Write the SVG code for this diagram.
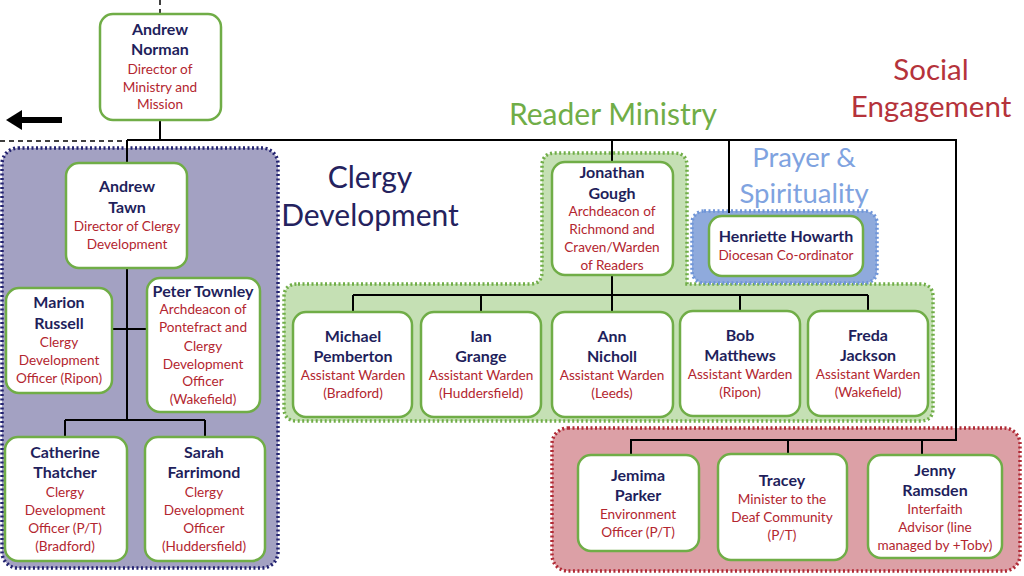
<svg xmlns="http://www.w3.org/2000/svg" width="1024" height="576" viewBox="0 0 1024 576">
<style>
.node{fill:#fff;stroke:#70ad47;stroke-width:2.5}
.nm{font-family:Lato,"Open Sans",sans-serif;font-weight:bold;font-size:16px;fill:#1f1f5c;text-anchor:middle}
.tt{font-family:Lato,"Open Sans",sans-serif;font-size:13.6px;fill:#b3262f;text-anchor:middle}
.ln{stroke:#000;stroke-width:2;fill:none}
.hd{font-family:Lato,"Open Sans",sans-serif;text-anchor:middle}
</style>
<rect width="1024" height="576" fill="#fff"/>
<g id="groups">
<rect x="2" y="148" width="276" height="420" rx="16" fill="#a3a1c2" stroke="#232370" stroke-width="3.5" stroke-dasharray="2 2.5"/>
<path d="M298 284 H530 Q542 284 542 272 V166 Q542 153 555 153 H674 Q687 153 687 166 V284 H920 Q933 284 933 297 V408 Q933 421 920 421 H297 Q284 421 284 408 V297 Q284 284 298 284 Z" fill="#c5e0b4" stroke="#70ad47" stroke-width="3.5" stroke-dasharray="2 2.5"/>
<rect x="692" y="211" width="185" height="72" rx="12" fill="#8faadc" stroke="#6f95d8" stroke-width="3.5" stroke-dasharray="2 2.5"/>
<rect x="552" y="428" width="468" height="143" rx="16" fill="#dca0a6" stroke="#b02a35" stroke-width="3.5" stroke-dasharray="2 2.5"/>
</g>
<g id="connectors">
<line x1="160" y1="0" x2="160" y2="14" stroke="#000" stroke-width="1.5" stroke-dasharray="5 4"/>
<line x1="0" y1="141" x2="127" y2="141" stroke="#000" stroke-width="1.5" stroke-dasharray="5 4"/>
<path class="ln" d="M160 120 V140 M127 140 H956 V440 H631 V455 M788 440 V455 M922 440 V455"/>
<path class="ln" d="M127 140 V163 M127 268 V420 M65 420 H205 M65 420 V437 M205 420 V437 M112 329 H147"/>
<path class="ln" d="M612 140 V162 M612 275 V295 M353 295 H868 M353 295 V312 M481 295 V312 M612 295 V312 M740 295 V311 M868 295 V311"/>
<path class="ln" d="M729 140 V213"/>
<path d="M62 120 H20" stroke="#000" stroke-width="6"/>
<path d="M6 120 L22 110 V130 Z" fill="#000"/>
</g>
<g id="titles">
<text class="hd" x="370" y="188" font-size="30" fill="#24225e">Clergy</text>
<text class="hd" x="370" y="226" font-size="30" fill="#24225e">Development</text>
<text class="hd" x="613" y="125" font-size="30" fill="#70ad47">Reader Ministry</text>
<text class="hd" x="804" y="167" font-size="27.5" fill="#7fa3e0">Prayer &amp;</text>
<text class="hd" x="804" y="203" font-size="27.5" fill="#7fa3e0">Spirituality</text>
<text class="hd" x="931" y="80" font-size="29.5" fill="#b5333b">Social</text>
<text class="hd" x="931" y="117" font-size="29.5" fill="#b5333b">Engagement</text>
</g>
<g id="andrew-norman">
<rect class="node" x="100" y="14" width="121" height="106" rx="13"/>
<text class="nm" x="160" y="35">Andrew</text><text class="nm" x="160" y="55">Norman</text>
<text class="tt" x="160" y="74">Director of</text><text class="tt" x="160" y="92">Ministry and</text><text class="tt" x="160" y="109">Mission</text>
</g>
<g id="andrew-tawn">
<rect class="node" x="66" y="163" width="121" height="105" rx="13"/>
<text class="nm" x="127" y="192">Andrew</text><text class="nm" x="127" y="213">Tawn</text>
<text class="tt" x="127" y="231">Director of Clergy</text><text class="tt" x="127" y="249">Development</text>
</g>
<g id="marion-russell">
<rect class="node" x="6" y="288" width="106" height="105" rx="13"/>
<text class="nm" x="59" y="308">Marion</text><text class="nm" x="59" y="329">Russell</text>
<text class="tt" x="59" y="347">Clergy</text><text class="tt" x="59" y="365">Development</text><text class="tt" x="59" y="383">Officer (Ripon)</text>
</g>
<g id="peter-townley">
<rect class="node" x="147" y="278" width="113" height="134" rx="13"/>
<text class="nm" x="203" y="297">Peter Townley</text>
<text class="tt" x="203" y="314">Archdeacon of</text><text class="tt" x="203" y="332">Pontefract and</text><text class="tt" x="203" y="351">Clergy</text><text class="tt" x="203" y="369">Development</text><text class="tt" x="203" y="386">Officer</text><text class="tt" x="203" y="404">(Wakefield)</text>
</g>
<g id="catherine-thatcher">
<rect class="node" x="5" y="437" width="122" height="124" rx="13"/>
<text class="nm" x="65" y="458">Catherine</text><text class="nm" x="65" y="478">Thatcher</text>
<text class="tt" x="65" y="497">Clergy</text><text class="tt" x="65" y="515">Development</text><text class="tt" x="65" y="533">Officer (P/T)</text><text class="tt" x="65" y="551">(Bradford)</text>
</g>
<g id="sarah-farrimond">
<rect class="node" x="145" y="437" width="120" height="124" rx="13"/>
<text class="nm" x="204" y="458">Sarah</text><text class="nm" x="204" y="478">Farrimond</text>
<text class="tt" x="204" y="497">Clergy</text><text class="tt" x="204" y="515">Development</text><text class="tt" x="204" y="533">Officer</text><text class="tt" x="204" y="551">(Huddersfield)</text>
</g>
<g id="jonathan-gough">
<rect class="node" x="552" y="162" width="121" height="113" rx="13"/>
<text class="nm" x="612" y="178">Jonathan</text><text class="nm" x="612" y="199">Gough</text>
<text class="tt" x="612" y="216">Archdeacon of</text><text class="tt" x="612" y="234">Richmond and</text><text class="tt" x="612" y="252">Craven/Warden</text><text class="tt" x="612" y="270">of Readers</text>
</g>
<g id="michael-pemberton">
<rect class="node" x="293" y="312" width="119" height="105" rx="13"/>
<text class="nm" x="353" y="342">Michael</text><text class="nm" x="353" y="362">Pemberton</text>
<text class="tt" x="353" y="380">Assistant Warden</text><text class="tt" x="353" y="398">(Bradford)</text>
</g>
<g id="ian-grange">
<rect class="node" x="421" y="312" width="120" height="105" rx="13"/>
<text class="nm" x="481" y="342">Ian</text><text class="nm" x="481" y="362">Grange</text>
<text class="tt" x="481" y="380">Assistant Warden</text><text class="tt" x="481" y="398">(Huddersfield)</text>
</g>
<g id="ann-nicholl">
<rect class="node" x="552" y="312" width="121" height="105" rx="13"/>
<text class="nm" x="612" y="342">Ann</text><text class="nm" x="612" y="362">Nicholl</text>
<text class="tt" x="612" y="380">Assistant Warden</text><text class="tt" x="612" y="398">(Leeds)</text>
</g>
<g id="bob-matthews">
<rect class="node" x="680" y="311" width="120" height="105" rx="13"/>
<text class="nm" x="740" y="341">Bob</text><text class="nm" x="740" y="361">Matthews</text>
<text class="tt" x="740" y="379">Assistant Warden</text><text class="tt" x="740" y="397">(Ripon)</text>
</g>
<g id="freda-jackson">
<rect class="node" x="808" y="311" width="120" height="105" rx="13"/>
<text class="nm" x="868" y="341">Freda</text><text class="nm" x="868" y="361">Jackson</text>
<text class="tt" x="868" y="379">Assistant Warden</text><text class="tt" x="868" y="397">(Wakefield)</text>
</g>
<g id="henriette-howarth">
<rect class="node" x="709" y="216" width="154" height="60" rx="13"/>
<text class="nm" x="786" y="242">Henriette Howarth</text>
<text class="tt" x="786" y="260">Diocesan Co-ordinator</text>
</g>
<g id="jemima-parker">
<rect class="node" x="578" y="455" width="121" height="96" rx="13"/>
<text class="nm" x="638" y="481">Jemima</text><text class="nm" x="638" y="501">Parker</text>
<text class="tt" x="638" y="519">Environment</text><text class="tt" x="638" y="537">Officer (P/T)</text>
</g>
<g id="tracey">
<rect class="node" x="718" y="454" width="129" height="106" rx="13"/>
<text class="nm" x="782" y="486">Tracey</text>
<text class="tt" x="782" y="504">Minister to the</text><text class="tt" x="782" y="522">Deaf Community</text><text class="tt" x="782" y="540">(P/T)</text>
</g>
<g id="jenny-ramsden">
<rect class="node" x="868" y="455" width="134" height="103" rx="13"/>
<text class="nm" x="935" y="476">Jenny</text><text class="nm" x="935" y="496">Ramsden</text>
<text class="tt" x="935" y="514">Interfaith</text><text class="tt" x="935" y="532">Advisor (line</text><text class="tt" x="935" y="550">managed by +Toby)</text>
</g>
</svg>
